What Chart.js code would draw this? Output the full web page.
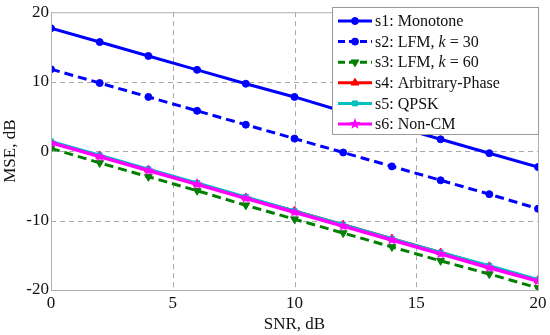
<!DOCTYPE html>
<html lang="en">
<head>
    <meta charset="UTF-8">
    <title>MSE vs SNR</title>
    <script src="https://cdn.jsdelivr.net/npm/chart.js"></script>
    <style>
        body { margin: 0; background: #fff; }
    </style>
</head>
<body>
    <canvas id="chart" width="550" height="335"></canvas>
    <script>
        // values
        const snr = [0, 2, 4, 6, 8, 10, 12, 14, 16, 18, 20];
        const s1 = [17.7, 15.7, 13.7, 11.7, 9.7, 7.8, 5.7, 3.7, 1.7, -0.3, -2.3];
        const s2 = [11.8, 9.8, 7.8, 5.8, 3.8, 1.8, -0.2, -2.2, -4.2, -6.2, -8.3];
        const s3 = [0.4, -1.7, -3.7, -5.7, -7.8, -9.8, -11.8, -13.8, -15.8, -17.7, -19.7];
        const s4 = [1.3, -0.7, -2.7, -4.7, -6.7, -8.6, -10.6, -12.6, -14.6, -16.6, -18.6];
        const s5 = [1.4, -0.6, -2.6, -4.6, -6.6, -8.6, -10.6, -12.6, -14.6, -16.5, -18.5];
        const s6 = [1.2, -0.8, -2.8, -4.8, -6.8, -8.8, -10.8, -12.8, -14.8, -16.8, -18.7];
        const xTicks = [0, 5, 10, 15, 20];
        const yTicks = [-20, -10, 0, 10, 20];

        const FONT = "'Liberation Serif', serif";

        function starImage(color, r) {
            const c = document.createElement("canvas");
            c.width = c.height = r * 2 + 2;
            const g = c.getContext("2d");
            g.fillStyle = color;
            g.beginPath();
            for (let i = 0; i < 10; i++) {
                const rad = i % 2 === 0 ? r : r * 0.42;
                const a = -Math.PI / 2 + i * Math.PI / 5;
                const px = r + 1 + rad * Math.cos(a), py = r + 1 + rad * Math.sin(a);
                if (i === 0) g.moveTo(px, py); else g.lineTo(px, py);
            }
            g.closePath();
            g.fill();
            return c;
        }
        const star = starImage("#ff00ff", 6);

        const pts = arr => arr.map((v, i) => ({ x: snr[i], y: v }));

        const series = [
            { label: "s1: Monotone", data: s1, color: "#0000ff", dash: [], style: "circle", radius: 3.5, rot: 0 },
            { label: "s2: LFM, k = 30", data: s2, color: "#0000ff", dash: [9, 5], style: "circle", radius: 3.5, rot: 0 },
            { label: "s3: LFM, k = 60", data: s3, color: "#008000", dash: [9, 5], style: "triangle", radius: 4.5, rot: 180 },
            { label: "s4: Arbitrary-Phase", data: s4, color: "#ff0000", dash: [], style: "triangle", radius: 4.5, rot: 0 },
            { label: "s5: QPSK", data: s5, color: "#00c0c0", dash: [], style: "rect", radius: 3.5, rot: 0 },
            { label: "s6: Non-CM", data: s6, color: "#ff00ff", dash: [], style: star, radius: 6, rot: 0 }
        ];

        const datasets = series.map((s, i) => ({
            label: s.label,
            data: pts(s.data),
            order: series.length - i,
            borderColor: s.color,
            backgroundColor: s.color,
            borderWidth: i === 5 ? 3.5 : 3,
            borderDash: s.dash,
            pointStyle: s.style,
            pointRadius: s.radius,
            pointRotation: s.rot,
            pointBorderWidth: 1,
            pointBorderColor: s.color,
            tension: 0
        }));

        // dashed grid at the inner ticks
        const dashedGrid = {
            id: "dashedGrid",
            beforeDatasetsDraw(chart) {
                const { ctx, chartArea: a, scales } = chart;
                ctx.save();
                ctx.strokeStyle = "#a8a8a8";
                ctx.lineWidth = 1;
                ctx.setLineDash([5, 4]);
                ctx.beginPath();
                xTicks.slice(1, -1).forEach(v => {
                    const px = Math.round(scales.x.getPixelForValue(v)) + 0.5;
                    ctx.moveTo(px, a.top);
                    ctx.lineTo(px, a.bottom);
                });
                yTicks.slice(1, -1).forEach(v => {
                    const py = Math.round(scales.y.getPixelForValue(v)) + 0.5;
                    ctx.moveTo(a.left, py);
                    ctx.lineTo(a.right, py);
                });
                ctx.stroke();
                ctx.restore();
            }
        };

        // box around plot + legend
        const frameLegend = {
            id: "frameLegend",
            afterDatasetsDraw(chart) {
                const { ctx, chartArea: a } = chart;
                ctx.save();
                ctx.strokeStyle = "#b0b0b0";
                ctx.lineWidth = 1;
                ctx.setLineDash([]);
                ctx.strokeRect(a.left + 0.5, a.top + 0.5, a.right - a.left, a.bottom - a.top);

                // legend box
                const bx = 332, by = 7, bw = 206, bh = 127;
                ctx.fillStyle = "#fff";
                ctx.fillRect(bx, by, bw, bh);
                ctx.strokeStyle = "#9a9a9a";
                ctx.strokeRect(bx + 0.5, by + 0.5, bw, bh);

                ctx.textBaseline = "middle";
                series.forEach((s, i) => {
                    const y = by + 14 + i * 20.6;
                    ctx.strokeStyle = s.color;
                    ctx.lineWidth = 3;
                    ctx.setLineDash(s.dash.length ? [7, 4] : []);
                    ctx.beginPath();
                    ctx.moveTo(338, y);
                    ctx.lineTo(372, y);
                    ctx.stroke();
                    ctx.setLineDash([]);
                    ctx.fillStyle = s.color;
                    ctx.lineWidth = 1;
                    if (typeof s.style !== "string") {
                        ctx.drawImage(s.style, 355 - s.style.width / 2, y - s.style.height / 2);
                    } else {
                        Chart.helpers.drawPoint(ctx, { pointStyle: s.style, rotation: s.rot, radius: s.radius, borderWidth: 1 }, 355, y);
                    }
                    // text, with italic k
                    ctx.fillStyle = "#111";
                    let x = 375;
                    const m = s.label.match(/^(.*, )(k)( = \d+)$/);
                    const parts = m ? [[m[1], false], [m[2], true], [m[3], false]] : [[s.label, false]];
                    parts.forEach(([t, it]) => {
                        ctx.font = (it ? "italic " : "") + "16px " + FONT;
                        ctx.fillText(t, x, y + 1);
                        x += ctx.measureText(t).width;
                    });
                });
                ctx.restore();
            }
        };

        new Chart(document.getElementById("chart"), {
            type: "line",
            data: { datasets },
            options: {
                responsive: false,
                animation: false,
                layout: { padding: { top: 8, right: 12, left: 0, bottom: 0 } },
                plugins: { legend: { display: false }, tooltip: { enabled: false } },
                scales: {
                    x: {
                        type: "linear",
                        min: 0, max: 20,
                        afterBuildTicks: sc => { sc.ticks = xTicks.map(v => ({ value: v })); },
                        ticks: { color: "#111", font: { family: FONT, size: 17 }, padding: 3, maxRotation: 0 },
                        grid: { display: false, drawTicks: false, tickLength: 0 },
                        border: { display: false },
                        title: { display: true, text: "SNR, dB", color: "#111", font: { family: FONT, size: 17 }, padding: { top: -3, bottom: 0 } },
                        afterFit: sc => { sc.height = 45; }
                    },
                    y: {
                        min: -20, max: 20,
                        afterBuildTicks: sc => { sc.ticks = yTicks.map(v => ({ value: v })); },
                        ticks: { color: "#111", font: { family: FONT, size: 17 }, padding: 2 },
                        grid: { display: false, drawTicks: false, tickLength: 0 },
                        border: { display: false },
                        title: { display: true, text: "MSE, dB", color: "#111", font: { family: FONT, size: 17 }, padding: { top: 0, bottom: 2 } },
                        afterFit: sc => { sc.width = 51; }
                    }
                }
            },
            plugins: [dashedGrid, frameLegend]
        });
    </script>
</body>
</html>
